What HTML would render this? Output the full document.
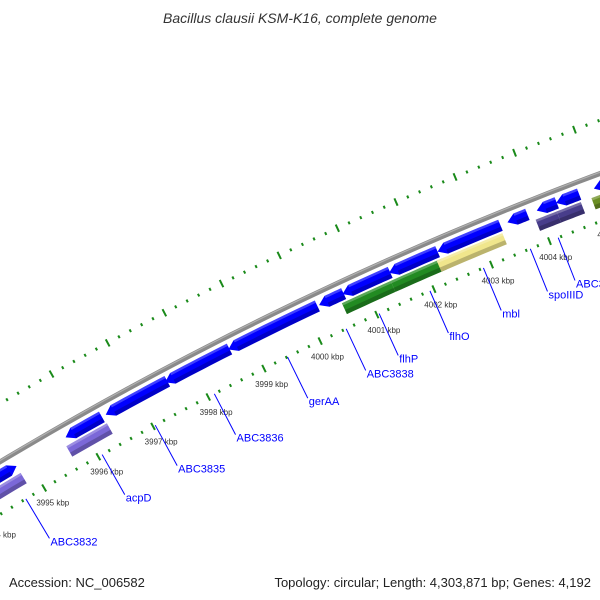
<!DOCTYPE html>
<html><head><meta charset="utf-8"><style>
html,body{margin:0;padding:0;background:#fff;}
svg{display:block;font-family:"Liberation Sans",sans-serif;}
</style></head><body>
<svg id="map" width="600" height="600" viewBox="0 0 600 600">
<text x="300" y="23" text-anchor="middle" font-size="14" font-style="italic" fill="#333">Bacillus clausii KSM-K16, complete genome</text>
<g id="ticks"></g>
<g id="backbone"></g>
<g id="features"></g>
<g id="labels"></g>
<text x="9" y="587" font-size="13" fill="#222">Accession: NC_006582</text>
<text x="591" y="587" font-size="13" fill="#222" text-anchor="end">Topology: circular; Length: 4,303,871 bp; Genes: 4,192</text>
</svg>
<script>
// ---- data (kbp) ----
const featStart = [3993.0,3995.7,3996.43,3997.5,3998.63,4000.23,4000.64,4001.45,4002.29,4003.49,4003.99,4004.32,4004.96, 3993.0,3995.64,4000.57,4001.42,4002.22,4003.92,4004.28,4004.87, 3993.0,3992.0];
const featEnd   = [3994.8,3996.36,3997.54,3998.65,4000.2,4000.66,4001.47,4002.29,4003.37,4003.83,4004.33,4004.71,4006.0, 3994.8,3996.38,4001.42,4002.31,4003.35,4004.28,4004.69,4006.0, 3994.57,3994.33];
const featTrack = [2,2,2,2,2,2,2,2,2,2,2,2,2, 3,3,3,3,3,3,3,3, 1,0];
const featDir   = [1,-1,-1,-1,-1,-1,-1,-1,-1,-1,-1,-1,-1, 0,0,0,0,0,0,0,0, 1,0];
const featColor = ["#0000ff","#0000ff","#0000ff","#0000ff","#0000ff","#0000ff","#0000ff","#0000ff","#0000ff","#0000ff","#0000ff","#0000ff","#0000ff",
 "#7b68d8","#7b68d8","#228b22","#228b22","#f0e68c","#483d8b","#483d8b","#6b8e23","#ff0000","#c8c8c8"];
const labelNames = ["ABC3832","acpD","ABC3835","ABC3836","gerAA","ABC3838","flhP","flhO","mbl","spoIIID","ABC3843"];
const labelPos   = [3994.66,3996.07,3997.04,3998.11,3999.42,4000.46,4001.04,4001.93,4002.86,4003.67,4004.15];
const tickMajors = [3993,3994,3995,3996,3997,3998,3999,4000,4001,4002,4003,4004,4005,4006];

// ---- geometry ----
const CX=1878, CY=3601;
const trackR=[3690,3672,3646,3632];
const R_BB=3658, R_IN=3613, R_OUT=3708;
function ang(k){return (-29.51+0.992*(k-3996))*Math.PI/180;}
function pt(k,r){const a=ang(k);return [CX+r*Math.sin(a),CY-r*Math.cos(a)];}
const NS="http://www.w3.org/2000/svg";
function mk(tag,attrs,parent){const e=document.createElementNS(NS,tag);for(const k in attrs)e.setAttribute(k,attrs[k]);parent.appendChild(e);return e;}
const gT=document.getElementById('ticks'),gB=document.getElementById('backbone'),gF=document.getElementById('features'),gL=document.getElementById('labels');

// backbone
(function(){let d="";for(let k=3992;k<=4007;k+=0.25){const p=pt(k,R_BB);d+=(d?"L":"M")+p[0].toFixed(2)+","+p[1].toFixed(2);}
const b=mk('path',{d:d,stroke:'#8a8a8a','stroke-width':5,fill:'none'},gB);


let d2="";for(let k=3992;k<=4007;k+=0.25){const p=pt(k,R_BB+1.2);d2+=(d2?"L":"M")+p[0].toFixed(2)+","+p[1].toFixed(2);}
const b2=mk('path',{d:d2,stroke:'#b0b0b0','stroke-width':1.2,fill:'none'},gB);

})();

// ticks
for(let i=0;i<=70;i++){const k=3992+i*0.2;const major=(i%5===0);
 [R_IN,R_OUT].forEach(function(r){const L=major?4:1.5;const a=pt(k,r-L),b=pt(k,r+L);
  const t=mk('line',{x1:a[0],y1:a[1],x2:b[0],y2:b[1],stroke:'#1a8a1a','stroke-width':2},gT);
  
  });}
tickMajors.forEach(function(k){const p=pt(k,R_IN-17);
 const t=mk('text',{x:p[0],y:p[1]+3,'text-anchor':'middle','font-size':8,fill:'#333'},gT);
 t.textContent=k+" kbp";
 
 });

// features
function arcPts(k1,k2,r){const out=[];const n=8;for(let i=0;i<=n;i++){out.push(pt(k1+(k2-k1)*i/n,r));}return out;}
for(let i=0;i<featStart.length;i++){
 const r=trackR[featTrack[i]],h=6,s=featStart[i],e=featEnd[i],dir=featDir[i];
 const head=0.14;
 let a1=s,a2=e;
 if(dir===1)a2=e-head; if(dir===-1)a1=s+head;
 let pts=arcPts(a1,a2,r+h);
 if(dir===1)pts.push(pt(e,r));
 pts=pts.concat(arcPts(a2,a1,r-h));
 if(dir===-1)pts.push(pt(s,r));
 const poly=mk('polygon',{points:pts.map(p=>p[0].toFixed(2)+","+p[1].toFixed(2)).join(" "),fill:featColor[i]},gF);
 
 
 // shading lower part
 let sh=arcPts(a1,a2,r-h+4.5).concat(arcPts(a2,a1,r-h));
 const shade=mk('polygon',{points:sh.map(p=>p[0].toFixed(2)+","+p[1].toFixed(2)).join(" "),fill:'#000','fill-opacity':0.22},gF);
 
 
 let hl=arcPts(a1,a2,r+h).concat(arcPts(a2,a1,r+h-2.5));
 const hi=mk('polygon',{points:hl.map(p=>p[0].toFixed(2)+","+p[1].toFixed(2)).join(" "),fill:'#fff','fill-opacity':0.25},gF);
 
 
}

// labels
labelNames.forEach(function(n,i){const k=labelPos[i];const a=pt(k,R_IN),b=pt(k,R_IN-46);
 const l=mk('line',{x1:a[0],y1:a[1],x2:b[0],y2:b[1],stroke:'#0000ff','stroke-width':1},gL);
 
 
 const t=mk('text',{x:b[0]+1,y:b[1]+7,'font-size':11,fill:'#0000ff'},gL);
 t.textContent=n;
 
 });
</script>
</body></html>
